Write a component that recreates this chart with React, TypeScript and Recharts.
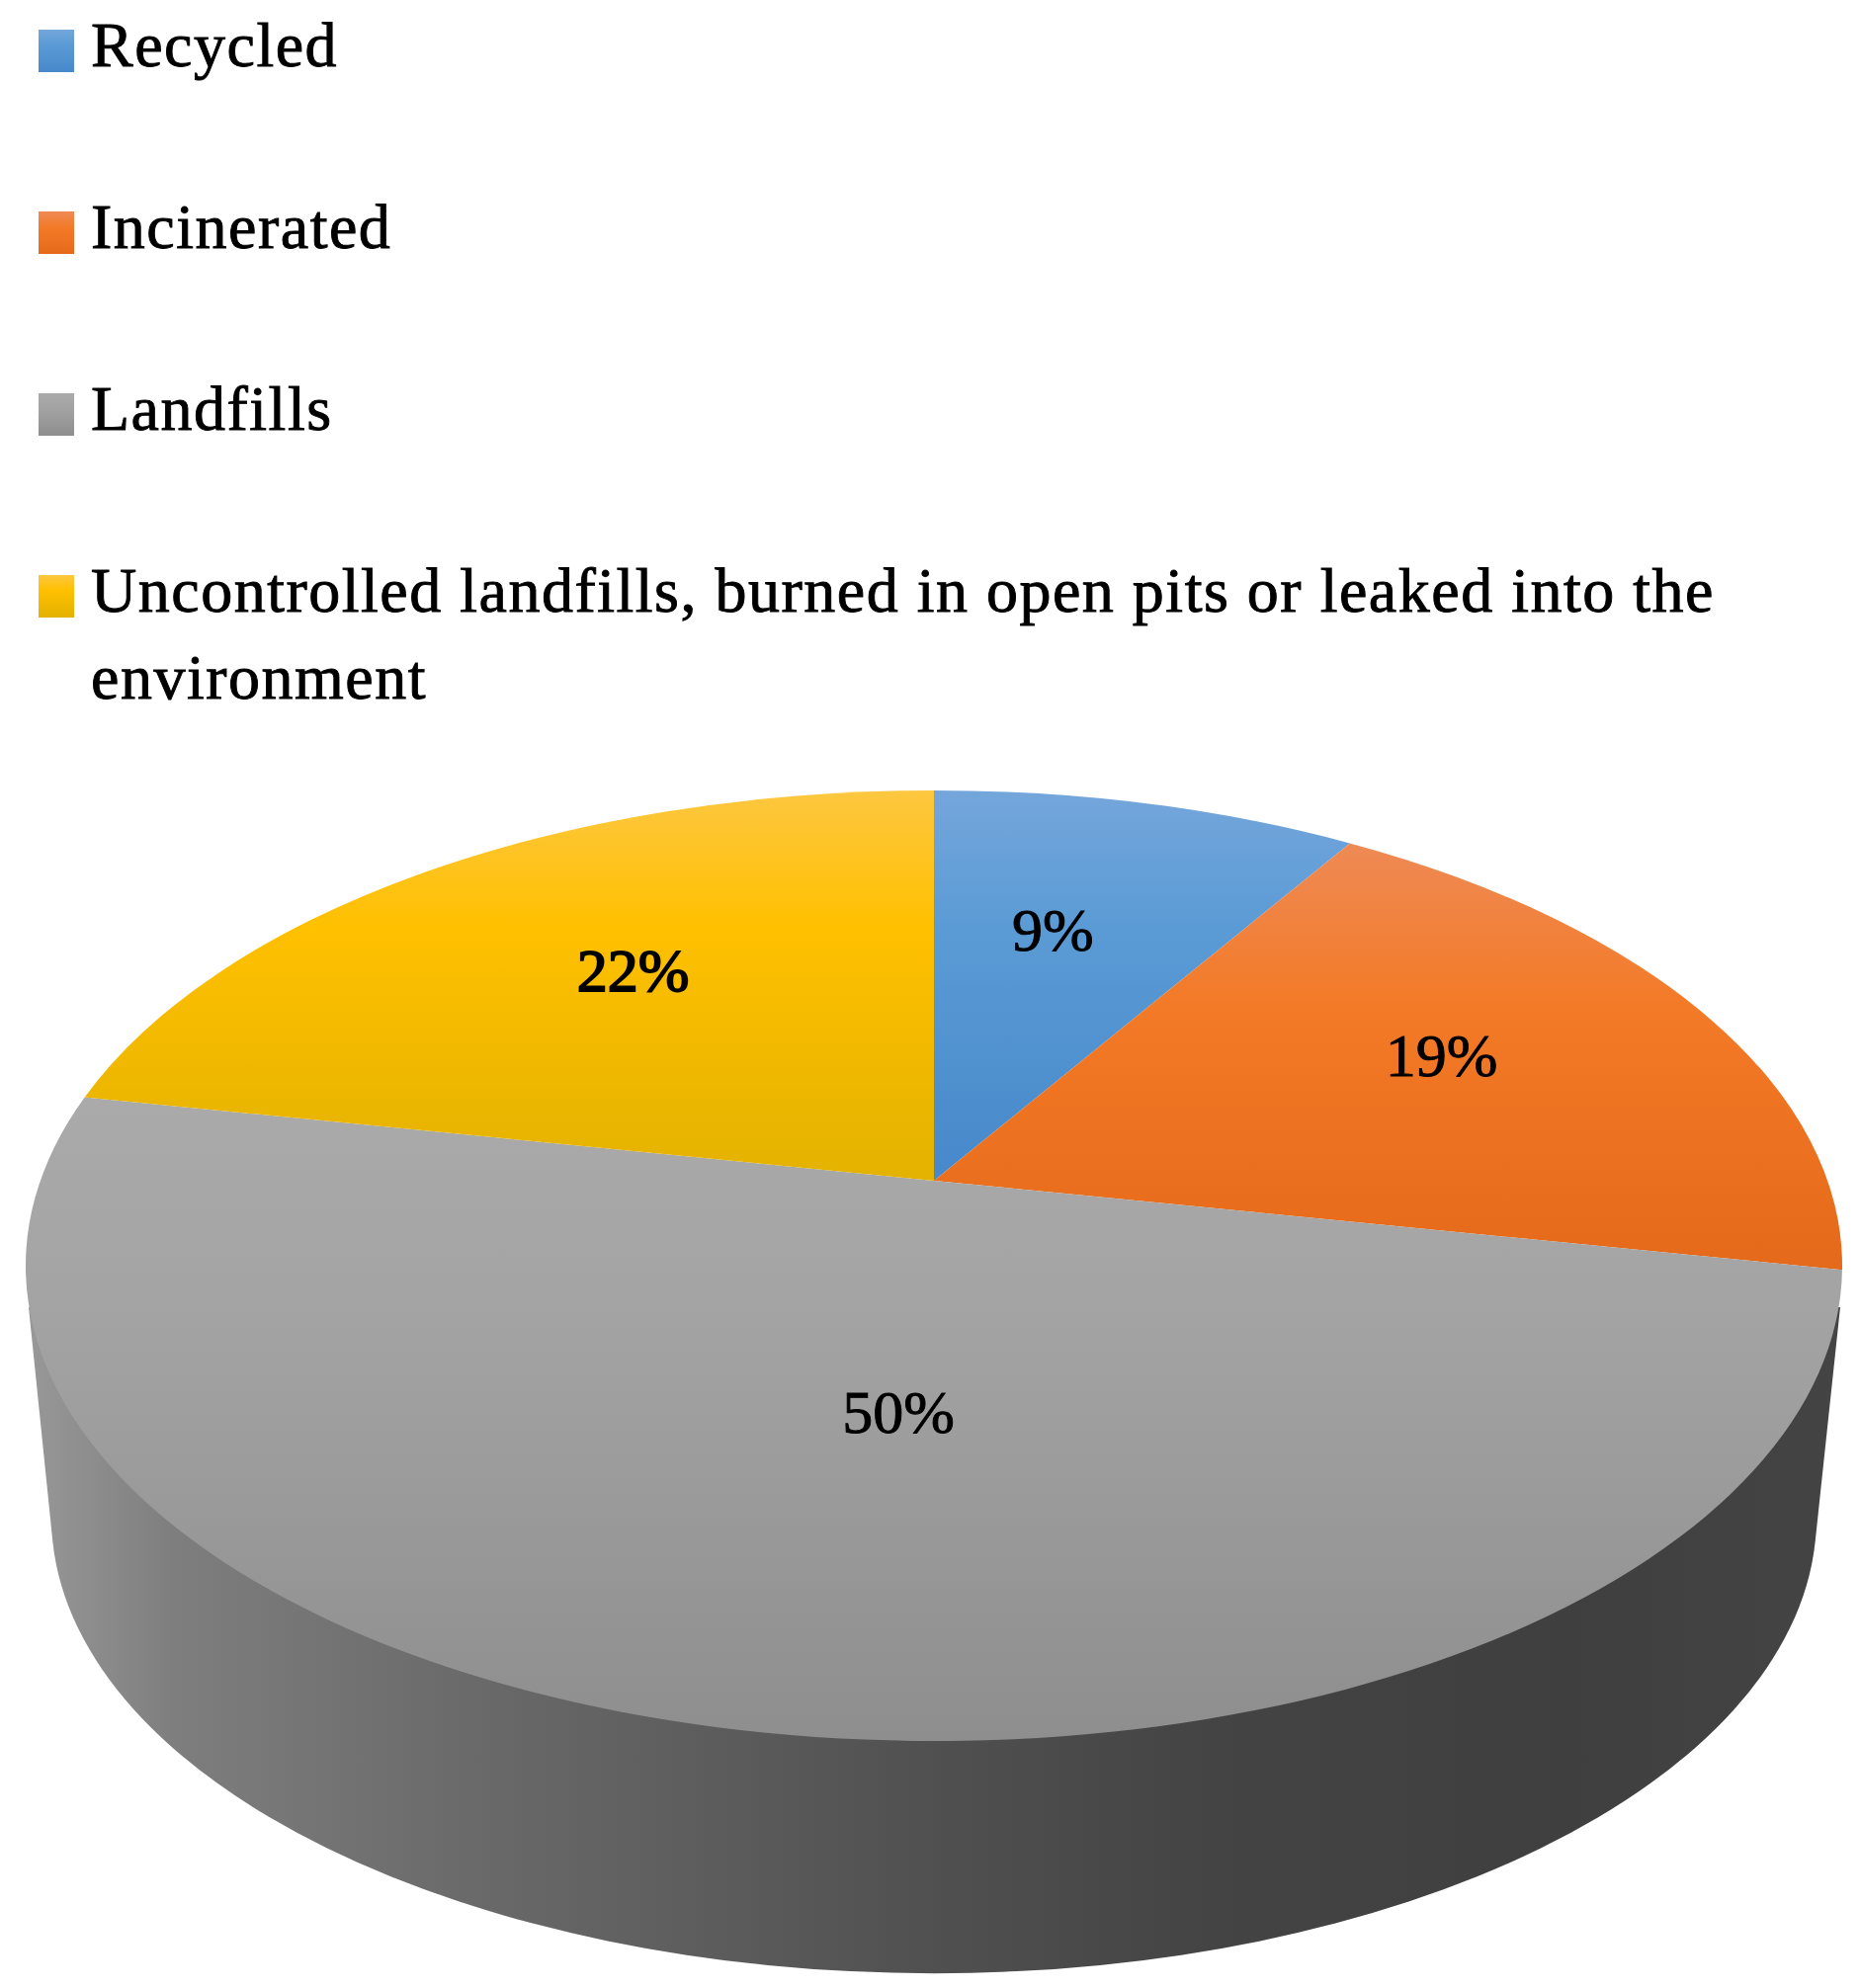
import React from 'react';
import { PieChart, Pie, Legend } from 'recharts';

const categories = [
  'Recycled',
  'Incinerated',
  'Landfills',
  'Uncontrolled landfills, burned in open pits or leaked into the environment',
];
const shares = [9, 19, 50, 22];
const gradients = [
  ['#74a6db', '#5b9bd5', '#4688ca'],
  ['#ee8a55', '#f37a27', '#e5691a'],
  ['#aaaaaa', '#a3a3a3', '#8e8e8e'],
  ['#fdc740', '#ffc000', '#e3b200'],
];
const gradientMid = ['35%', '38%', '35%', '35%'];
const labelRadius = [0.63, 0.67, 0.47, 0.6];
const labelNudgeX = [-23, -17, 51, 15];
const labelNudgeY = [0, -9, 0, -14];

const data = categories.map((name, i) => ({
  name,
  value: shares[i],
  fill: `url(#slice-${i})`,
}));

// the disc is drawn in perspective, so the pie centre sits above the middle of the ellipse
const W = 1881;
const H = 2012;
const CX = 945;
const CY = 1281;
const RX = 919;
const SQUASH = 481 / 919;
const TILT = -0.179;

const project = (deg: number, r: number, cx: number, cy: number, rx: number) => {
  const a = (deg * Math.PI) / 180;
  const x = r * Math.cos(a);
  const y = -r * Math.sin(a);
  const den = 1 + TILT * y;
  const X = (x * Math.sqrt(1 - TILT * TILT)) / den;
  const Y = (y + TILT) / den;
  return { x: cx + X * rx, y: cy + Y * rx * SQUASH, X, Y };
};

const SliceShape = (props: any) => {
  const { cx, cy, outerRadius, startAngle, endAngle, fill } = props;
  const apex = project(0, 0, cx, cy, outerRadius);
  const p0 = project(startAngle, 1, cx, cy, outerRadius);
  const p1 = project(endAngle, 1, cx, cy, outerRadius);
  const t0 = Math.atan2(p0.X, -p0.Y);
  const t1 = Math.atan2(p1.X, -p1.Y);
  const sweep = ((t1 - t0) * 180) / Math.PI;
  const large = (sweep + 360) % 360 > 180 ? 1 : 0;
  const ry = outerRadius * SQUASH;
  const d = `M${apex.x},${apex.y} L${p0.x},${p0.y} A${outerRadius},${ry} 0 ${large} 1 ${p1.x},${p1.y} Z`;
  return <path d={d} fill={fill} stroke="none" />;
};

const renderLabel = (props: any) => {
  const { cx, cy, outerRadius, midAngle, index, value } = props;
  const p = project(midAngle, labelRadius[index], cx, cy, outerRadius);
  return (
    <text
      x={p.x + labelNudgeX[index]}
      y={p.y + labelNudgeY[index]}
      textAnchor="middle"
      dominantBaseline="central"
      fontFamily="'Liberation Serif', serif"
      fontSize={62}
      fill="#000"
      stroke="#000"
      strokeWidth={index === 3 ? 1.8 : 0.9}
    >
      {value}%
    </text>
  );
};

const LegendRows = (props: any) => (
  <div
    style={{
      position: 'absolute',
      left: 0,
      top: 2,
      width: 1790,
      fontFamily: "'Liberation Serif', serif",
      fontSize: 64,
      letterSpacing: 1.5,
      lineHeight: '88px',
      color: '#000',
      WebkitTextStroke: '0.9px #000',
    }}
  >
    {(props.payload || []).map((entry: any, i: number) => (
      <div key={entry.value} style={{ position: 'relative', paddingLeft: 92, marginBottom: 96 }}>
        <svg width={36} height={43} style={{ position: 'absolute', left: 39, top: 28 }}>
          <rect width={36} height={43} fill={`url(#slice-${i})`} />
        </svg>
        {entry.value}
      </div>
    ))}
  </div>
);

export default function App() {
  const wallTop = 1323;
  const d =
    `M29,${wallTop} L53.4,1561 A893,462 0 0 0 1836.6,1561 L1862,${wallTop} Z`;
  return (
    <div style={{ position: 'absolute', left: 0, top: 0, width: W, height: H, background: '#fff', filter: 'blur(0.6px)' }}>
      <PieChart width={W} height={H} margin={{ top: 0, right: 0, bottom: 0, left: 0 }}>
        <defs>
          {gradients.map((g, i) => (
            <linearGradient key={i} id={`slice-${i}`} x1="0" y1="0" x2="0" y2="1">
              <stop offset="0%" stopColor={g[0]} />
              <stop offset={gradientMid[i]} stopColor={g[1]} />
              <stop offset="100%" stopColor={g[2]} />
            </linearGradient>
          ))}
          <linearGradient id="wall" gradientUnits="userSpaceOnUse" x1="29" y1="0" x2="1862" y2="0">
            <stop offset="0%" stopColor="#989898" />
            <stop offset="8%" stopColor="#7e7e7e" />
            <stop offset="25%" stopColor="#696969" />
            <stop offset="50%" stopColor="#505050" />
            <stop offset="65%" stopColor="#444444" />
            <stop offset="85%" stopColor="#3f3f3f" />
            <stop offset="100%" stopColor="#444444" />
          </linearGradient>
        </defs>
        <path d={d} fill="url(#wall)" />
        <Pie
          data={data}
          dataKey="value"
          nameKey="name"
          cx={CX}
          cy={CY}
          outerRadius={RX}
          startAngle={90}
          endAngle={-270}
          stroke="none"
          isAnimationActive={false}
          shape={(props: any) => <SliceShape {...props} />}
          label={renderLabel}
          labelLine={false}
        />
        <Legend
          content={(props: any) => <LegendRows {...props} />}
          itemSorter={null}
          layout="horizontal"
          verticalAlign="top"
          align="left"
          wrapperStyle={{ left: 0, top: 0, height: 0, width: W }}
        />
      </PieChart>
    </div>
  );
}
